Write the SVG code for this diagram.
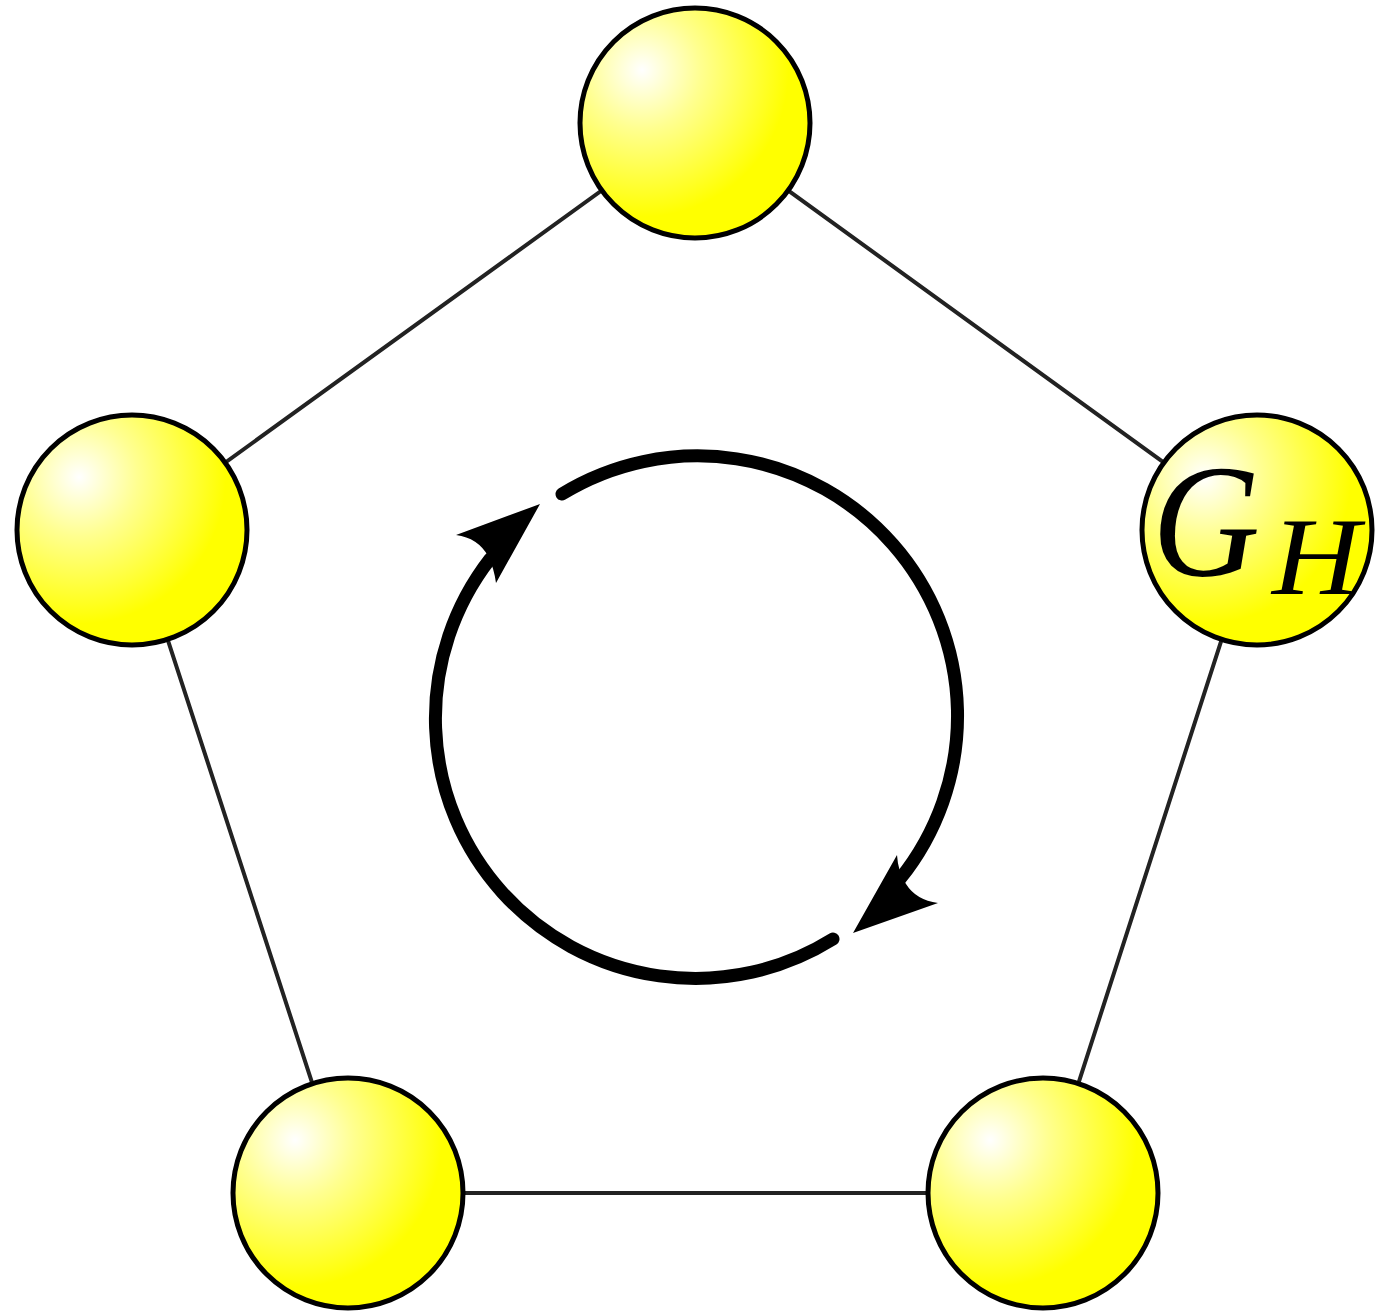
<svg xmlns="http://www.w3.org/2000/svg" width="1393" height="1312" viewBox="0 0 1393 1312">
<defs>
<radialGradient id="ball" cx="0.27" cy="0.27" fx="0.27" fy="0.27" r="0.85">
<stop offset="0" stop-color="#ffffff"/>
<stop offset="0.3" stop-color="#ffff90"/>
<stop offset="0.75" stop-color="#ffff00"/>
<stop offset="1" stop-color="#ffff00"/>
</radialGradient>
<style>
.edge{stroke:#222;stroke-width:4;fill:none}
.node{fill:url(#ball);stroke:#000;stroke-width:5}
.arc{stroke:#000;stroke-width:13;fill:none;stroke-linecap:round}
.head{fill:#000;stroke:none}
.lbl{font-family:"Liberation Serif","Times New Roman",serif;font-style:italic;fill:#000}
</style>
</defs>
<g id="connectors">
<path class="edge" d="M695,123 L132,530 L348,1193 L1043,1193 L1257,530 Z"/>
</g>
<g id="node-top"><circle class="node" cx="695" cy="123" r="115"/></g>
<g id="node-left"><circle class="node" cx="132" cy="530" r="115"/></g>
<g id="node-right"><circle class="node" cx="1257" cy="530" r="115"/>
<text class="lbl" x="1152" y="576" font-size="160" textLength="108" lengthAdjust="spacingAndGlyphs">G</text>
<text class="lbl" x="1272" y="594" font-size="110" textLength="88" lengthAdjust="spacingAndGlyphs">H</text>
</g>
<g id="node-bottomleft"><circle class="node" cx="348" cy="1193" r="115"/></g>
<g id="node-bottomright"><circle class="node" cx="1043" cy="1193" r="115"/></g>
<g id="cycle">
<path class="arc" d="M562,494 A260,260 0 0 1 900,879"/>
<path class="arc" d="M833,939 A260,260 0 0 1 490,559"/>
<path class="head" d="M540,504 L456,535 Q478,538 488,556 Q494,568 496,583 Z"/>
<path class="head" d="M853,933 L938,903 Q916,900 906,884 Q898,872 897,855 Z"/>
</g>
</svg>
